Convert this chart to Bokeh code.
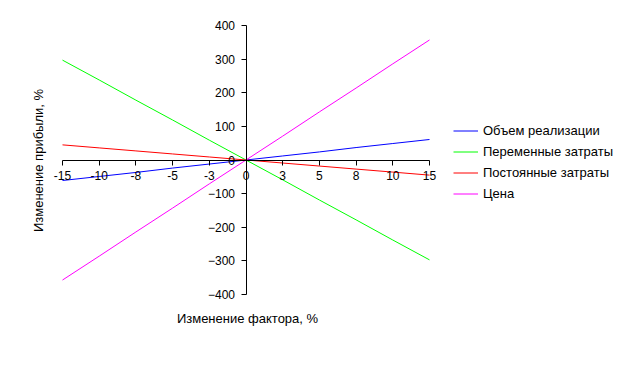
from bokeh.plotting import figure
from bokeh.models import Range1d, LinearAxis, FixedTicker, Legend, LegendItem, Label
from bokeh.embed import file_html
from bokeh.resources import INLINE
import math

categories = ["-15", "-10", "-8", "-5", "-3", "0", "3", "5", "8", "10", "15"]
sales_volume = [-61, -49, -37, -24, -12, 0, 12, 24, 37, 49, 61]
variable_costs = [297, 238, 178, 119, 59, 0, -59, -119, -178, -238, -297]
fixed_costs = [45, 36, 27, 18, 9, 0, -9, -18, -27, -36, -45]
price = [-357, -286, -214, -143, -71, 0, 71, 143, 214, 286, 357]
y_ticks = [-400, -300, -200, -100, 0, 100, 200, 300, 400]

series = [
    ("Объем реализации", sales_volume, "#0000FF"),
    ("Переменные затраты", variable_costs, "#00FF00"),
    ("Постоянные затраты", fixed_costs, "#FF0000"),
    ("Цена", price, "#FF00FF"),
]

FONT = "Liberation Sans"
xs = list(range(len(categories)))
zero_idx = categories.index("0")
n = len(categories) - 1

W, H = 618, 380
# pixel layout of the plotting area within the canvas
X0, X1 = 62, 429          # first / last category
YT, YB = 25, 294          # 400 / -400
px_x = (X1 - X0) / n
px_y = (YB - YT) / 800.0
x_start = -X0 / px_x
x_end = n + (W - X1) / px_x
y_end = 400 + YT / px_y
y_start = -400 - (H - YB) / px_y

p = figure(width=W, height=H, output_backend="svg", toolbar_location=None,
           x_range=Range1d(x_start, x_end), y_range=Range1d(y_start, y_end),
           x_axis_location=None, y_axis_location=None,
           min_border=0, min_border_left=0, min_border_right=0,
           min_border_top=0, min_border_bottom=0)
p.outline_line_color = None
p.xgrid.visible = False
p.ygrid.visible = False
p.background_fill_color = "white"
p.border_fill_color = "white"

items = []
for name, vals, color in series:
    r = p.line(xs, vals, line_color=color, line_width=1)
    items.append(LegendItem(label=name, renderers=[r]))

xaxis = LinearAxis(fixed_location=0, bounds=(0, n))
xaxis.ticker = FixedTicker(ticks=xs)
xaxis.major_label_overrides = {i: c for i, c in enumerate(categories)}
xaxis.minor_tick_line_color = None
xaxis.major_tick_in = 0
xaxis.major_tick_out = 5
xaxis.major_label_standoff = 6
xaxis.major_label_text_font = FONT
xaxis.major_label_text_font_size = "12px"
xaxis.major_label_text_color = "black"
xaxis.axis_line_color = "black"
xaxis.major_tick_line_color = "black"
p.add_layout(xaxis, "below")

yaxis = LinearAxis(fixed_location=zero_idx, bounds=(-400, 400))
yaxis.ticker = FixedTicker(ticks=y_ticks)
yaxis.minor_tick_line_color = None
yaxis.major_tick_in = 0
yaxis.major_tick_out = 5
yaxis.major_label_standoff = 6
yaxis.major_label_text_font = FONT
yaxis.major_label_text_font_size = "12px"
yaxis.major_label_text_color = "black"
yaxis.axis_line_color = "black"
yaxis.major_tick_line_color = "black"
p.add_layout(yaxis, "left")

p.add_layout(Label(x=(247 - X0) / px_x, y=400 - (318 - YT) / px_y,
                   text="Изменение фактора, %", text_align="center",
                   text_baseline="middle", text_font=FONT, text_font_size="13px",
                   text_color="black"))
p.add_layout(Label(x=(38 - X0) / px_x, y=400 - (160 - YT) / px_y,
                   text="Изменение прибыли, %", angle=math.pi / 2,
                   text_align="center", text_baseline="middle", text_font=FONT,
                   text_font_size="13px", text_color="black"))

legend = Legend(items=items, location=(453, H - 204), padding=0, margin=0, spacing=0,
                glyph_width=25, glyph_height=21, label_height=21, label_standoff=5,
                label_text_font=FONT, label_text_font_size="13px",
                label_text_color="black", border_line_color=None,
                background_fill_alpha=0)
p.add_layout(legend, "center")

open("out.html", "w").write(file_html(p, INLINE))
